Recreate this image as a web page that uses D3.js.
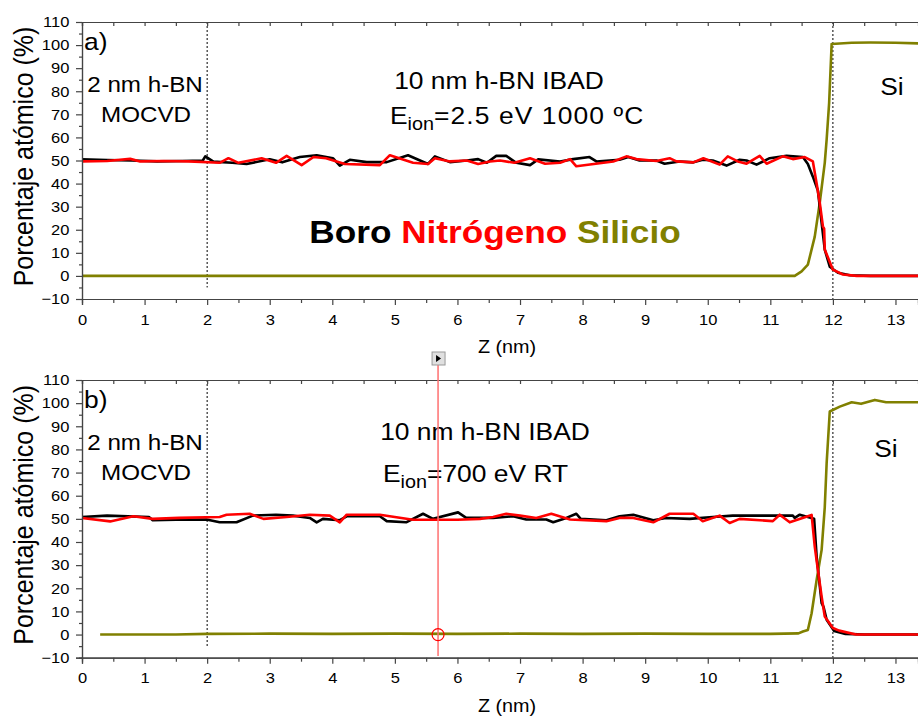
<!DOCTYPE html>
<html>
<head>
<meta charset="utf-8">
<script src="https://cdn.jsdelivr.net/npm/d3@7"></script>
<style>
  body { margin: 0; background: #fff; }
  svg { display: block; font-family: "Liberation Sans", Arial, sans-serif; }
</style>
</head>
<body>
<script>
"use strict"

// panel a) : 10 nm h-BN IBAD, Eion = 2.5 eV, 1000 ºC
const boroA = [[0,50.5],[0.4,50.2],[0.8,50],[1.2,49.6],[1.6,49.8],[1.93,50],[1.97,51.8],[2.1,49.5],[2.4,49],[2.63,48.5],[3.0,50.5],[3.2,49.2],[3.48,51.5],[3.75,52.3],[4.01,51],[4.12,47.8],[4.28,50.3],[4.55,49.3],[4.87,49.3],[5.21,52.3],[5.53,48.5],[5.64,51.8],[5.88,49.3],[6.15,50],[6.33,50.6],[6.47,49],[6.62,52],[6.78,52],[6.94,49],[7.16,48],[7.29,50.5],[7.64,49.6],[7.85,50.6],[8.11,51.5],[8.22,49.6],[8.59,50.3],[8.73,51.5],[8.91,50],[9.18,50],[9.31,48.6],[9.55,49.6],[9.77,49.2],[9.92,50.3],[10.08,50],[10.3,47.8],[10.51,50.3],[10.62,50],[10.78,48.2],[10.99,51],[11.26,52],[11.52,51.5],[11.6,48.5],[11.68,43],[11.76,37],[11.82,23],[11.87,11.4],[11.95,4],[12.08,1.4],[12.27,0.3],[12.6,0],[13.4,0]]
const nitroA = [[0,49.6],[0.4,49.8],[0.77,50.7],[0.93,49.6],[1.3,49.8],[1.7,49.6],[2.2,49],[2.34,51],[2.5,49],[2.87,51],[3.1,49],[3.27,52],[3.51,48],[3.7,51.5],[3.9,51],[4.2,48.5],[4.76,48],[4.92,52.3],[5.29,49],[5.53,48.5],[5.64,51],[5.88,49.6],[6.15,50],[6.33,48.5],[6.52,49.6],[6.68,50],[6.91,49],[7.16,51],[7.4,48.6],[7.64,49],[7.8,50.6],[7.9,47.5],[8.49,49.6],[8.7,51.8],[8.86,50.6],[9.18,49.8],[9.39,51],[9.5,49.6],[9.77,49.2],[9.93,51],[10.19,48.2],[10.32,51.8],[10.48,49.6],[10.62,48.6],[10.83,52],[10.94,48.6],[11.2,51.8],[11.36,50.6],[11.55,51.5],[11.68,49.6],[11.74,40],[11.79,31.7],[11.84,21.5],[11.86,20.5],[11.87,11.4],[12.0,2.7],[12.16,0.6],[12.38,0],[13.4,0]]
const siA = [[0,0],[11.39,0],[11.5,2],[11.6,4.9],[11.71,17],[11.79,31.7],[11.87,49],[11.9,59],[11.94,75],[11.98,100.5],[12.3,101],[12.6,101.1],[13.0,101],[13.4,100.7]]

// panel b) : 10 nm h-BN IBAD, Eion = 700 eV, RT
const boroB = [[0,50.8],[0.4,51.4],[1.07,50.8],[1.13,49.4],[1.5,49.6],[1.99,49.7],[2.2,48.5],[2.47,48.5],[2.73,51.4],[3.1,51.8],[3.37,51.4],[3.64,50.4],[3.75,48.5],[3.85,50],[4.12,49.4],[4.23,51.1],[4.76,51.1],[4.87,49],[5.18,48.5],[5.45,52.2],[5.61,50],[6.01,52.8],[6.14,50.4],[6.57,50.4],[6.89,51.1],[7.1,49.7],[7.42,49.7],[7.53,48.5],[7.74,50.4],[7.9,52.2],[7.97,50],[8.38,49.4],[8.59,51.1],[8.81,51.8],[9.13,49.4],[9.33,50.4],[9.71,50],[10.08,50.8],[10.4,51.4],[11.36,51.4],[11.39,50.4],[11.47,51.8],[11.7,50],[11.74,33.7],[11.82,13.6],[11.85,12],[11.9,6.4],[12.02,1.5],[12.2,0.3],[12.5,0],[13.4,0]]
const nitroB = [[0,50.4],[0.45,48.9],[0.82,51.1],[1.13,50],[1.55,50.4],[2.2,50.8],[2.31,51.8],[2.68,52.2],[2.9,50],[3.27,50.8],[3.64,51.8],[3.96,51.4],[4.12,48.5],[4.23,51.8],[4.76,51.8],[5.29,49.6],[6.0,49.6],[6.36,50],[6.57,50.8],[6.78,52.2],[7.0,51.4],[7.26,50.4],[7.5,52.2],[7.8,49.7],[8.38,49],[8.59,50.4],[8.81,50.4],[9.13,48.5],[9.39,52.2],[9.77,52.2],[9.92,49],[10.19,51.4],[10.35,48.2],[10.51,50],[11.04,49],[11.15,51.8],[11.31,48.5],[11.66,51.7],[11.71,38],[11.76,28],[11.82,16.4],[11.87,7.8],[12.0,2.8],[12.1,1.7],[12.37,0],[13.4,0]]
const siB = [[0.29,0],[1.5,0],[2.0,0.3],[3,0.4],[4,0.3],[5,0.4],[6,0.3],[7,0.4],[8,0.3],[9,0.4],[10,0.3],[11,0.3],[11.45,0.5],[11.52,1.3],[11.6,2],[11.66,9.2],[11.74,23.6],[11.82,36.6],[11.87,55],[11.9,74],[11.95,96.4],[12.11,98.5],[12.3,100.4],[12.45,99.7],[12.67,101.4],[12.85,100.4],[13.4,100.4]]

const xMajor = d3.range(0, 14, 1)
const xMinor = d3.range(0.5, 14, 1)
const yMajor = d3.range(-10, 111, 10)
const yMinor = d3.range(-5, 111, 10)
const cursorZ = 5.69

const W = 918, H = 721
const SX = 1.1   // the figure is slightly stretched horizontally
const col = { boro: '#000', nitro: '#ff0000', si: '#808000', axis: '#444' }

const x = d3.scaleLinear([0, 13.36], [82, 918])

const svg = d3.select('body').append('svg')
   .attr('width', W)
   .attr('height', H)

function txt(g, px, py, s, size, anchor, weight, fill) {
   return g.append('text')
      .attr('transform', `translate(${px},${py}) scale(${SX},1)`)
      .attr('text-anchor', anchor || 'middle')
      .style('font-size', size + 'px')
      .style('font-weight', weight || 'normal')
      .style('fill', fill || '#000')
      .text(s)
}

function eion(g, px, py, rest, spacing) {
   const t = g.append('text')
      .attr('transform', `translate(${px},${py}) scale(${SX},1)`)
      .style('font-size', '24px')
   t.append('tspan').text('E')
   t.append('tspan').attr('dy', 6).style('font-size', '18px').text('ion')
   t.append('tspan').attr('dy', -6).style('letter-spacing', spacing + 'px').text(rest)
}

function panel(top, bottom, boro, nitro, si, label) {
   const y = d3.scaleLinear([-10, 110], [bottom, top])
   const g = svg.append('g')

   // layer boundaries
   g.append('line')
      .attr('x1', x(2)).attr('x2', x(2))
      .attr('y1', y(110)).attr('y2', y(-5))
      .attr('stroke', '#000').attr('stroke-width', 1).attr('stroke-dasharray', '2,2')
   g.append('line')
      .attr('x1', x(12)).attr('x2', x(12))
      .attr('y1', y(110)).attr('y2', y(-10))
      .attr('stroke', '#000').attr('stroke-width', 1).attr('stroke-dasharray', '2,2')

   const line = d3.line().x(d => x(d[0])).y(d => y(d[1]))
   ;[[si, col.si], [boro, col.boro], [nitro, col.nitro]].forEach(([d, c]) => {
      g.append('path')
         .attr('d', line(d))
         .attr('fill', 'none')
         .attr('stroke', c)
         .attr('stroke-width', 2.6)
         .attr('stroke-linejoin', 'round')
   })

   // axes
   g.append('g').attr('transform', `translate(0,${bottom})`)
      .call(d3.axisBottom(x).tickValues(xMajor).tickSize(6).tickPadding(9))
   g.append('g').attr('transform', `translate(0,${bottom})`)
      .call(d3.axisBottom(x).tickValues(xMinor).tickSize(4).tickFormat(''))
   g.append('g').attr('transform', `translate(0,${top})`)
      .call(d3.axisBottom(x).tickValues(xMajor.concat(xMinor)).tickSize(4).tickFormat(''))
   g.append('g').attr('transform', `translate(${x(0)},0)`)
      .call(d3.axisLeft(y).tickValues(yMajor).tickSize(6).tickPadding(5.5))
   g.append('g').attr('transform', `translate(${x(0)},0)`)
      .call(d3.axisLeft(y).tickValues(yMinor).tickSize(3).tickFormat(''))
   g.selectAll('.domain, .tick line').attr('stroke', col.axis).attr('stroke-width', 1.2)
   g.selectAll('.tick text')
      .attr('transform', `scale(${SX},1)`)
      .style('font-size', '15px')
      .style('font-family', '"Liberation Sans", Arial, sans-serif')
      .attr('fill', '#000')

   txt(g, 507, bottom + 54, 'Z (nm)', 18)
   g.append('text')
      .attr('transform', `translate(33,${(top + bottom) / 2 - 4}) scale(${SX},1) rotate(-90)`)
      .attr('text-anchor', 'middle')
      .style('font-size', '25px')
      .text('Porcentaje atómico (%)')

   txt(g, 84, top + 28, label, 24, 'start')
   txt(g, 145, top + 70, '2 nm h-BN', 22)
   txt(g, 146, top + 100, 'MOCVD', 22)
   return y
}

panel(22, 299, boroA, nitroA, siA, 'a)')
txt(svg, 499, 89, '10 nm h-BN IBAD', 24)
eion(svg, 390, 124, '=2.5 eV 1000 ºC', 1)
txt(svg, 892, 95, 'Si', 24)
const leg = svg.append('text')
   .attr('transform', `translate(495,243) scale(${SX},1)`)
   .attr('text-anchor', 'middle')
   .style('font-size', '32px')
   .style('font-weight', 'bold')
leg.append('tspan').attr('fill', col.boro).text('Boro ')
leg.append('tspan').attr('fill', col.nitro).text('Nitrógeno ')
leg.append('tspan').attr('fill', col.si).text('Silicio')

const yB = panel(380, 657.7, boroB, nitroB, siB, 'b)')
txt(svg, 485, 440, '10 nm h-BN IBAD', 24)
eion(svg, 383, 482, '=700 eV RT', 0)
txt(svg, 886, 457, 'Si', 24)

// data reader cursor in panel b)
svg.append('line')
   .attr('x1', x(cursorZ)).attr('x2', x(cursorZ))
   .attr('y1', 365).attr('y2', 656)
   .attr('stroke', '#ff7070').attr('stroke-width', 1.5)
svg.append('circle')
   .attr('cx', x(cursorZ)).attr('cy', yB(0)).attr('r', 6)
   .attr('fill', 'none').attr('stroke', '#ff0000').attr('stroke-width', 1.2)
svg.append('rect')
   .attr('x', x(cursorZ) - 6).attr('y', 352).attr('width', 13).attr('height', 13)
   .attr('fill', '#e0e0e0').attr('stroke', '#999')
svg.append('path')
   .attr('d', `M${x(cursorZ) - 2},${355} L${x(cursorZ) + 3},${358.5} L${x(cursorZ) - 2},${362} Z`)
   .attr('fill', '#000')
</script>
</body>
</html>
